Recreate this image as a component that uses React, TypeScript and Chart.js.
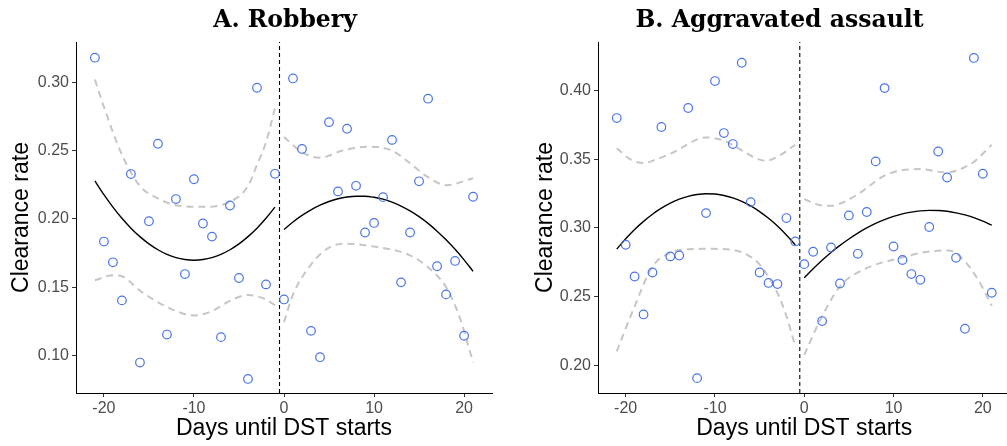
import React, { useEffect, useRef } from "react";
import { Chart, registerables } from "chart.js";

Chart.register(...registerables);

// ---------- Shared axis ticks ----------
const xTickValues = [-20, -10, 0, 10, 20];
const cutoffDay = -0.5;

// ---------- Panel A: Robbery ----------
const robberyDaysBefore = [-21, -20, -19, -18, -17, -16, -15, -14, -13, -12, -11, -10, -9, -8, -7, -6, -5, -4, -3, -2, -1];
const robberyRateBefore = [0.318, 0.1834, 0.1682, 0.1403, 0.2328, 0.0948, 0.1983, 0.255, 0.1153, 0.2145, 0.1596, 0.229, 0.1966, 0.187, 0.1134, 0.2098, 0.1567, 0.0828, 0.296, 0.152, 0.233];
const robberyDaysAfter = [0, 1, 2, 3, 4, 5, 6, 7, 8, 9, 10, 11, 12, 13, 14, 15, 16, 17, 18, 19, 20, 21];
const robberyRateAfter = [0.141, 0.3028, 0.2512, 0.118, 0.0987, 0.2708, 0.2201, 0.266, 0.2242, 0.19, 0.197, 0.2159, 0.2578, 0.1535, 0.19, 0.2275, 0.288, 0.1653, 0.1447, 0.1692, 0.1144, 0.2162];

const robberyFitBefore = [0.2278, 0.2177, 0.2086, 0.2004, 0.1932, 0.187, 0.1817, 0.1774, 0.174, 0.1716, 0.1702, 0.1697, 0.1702, 0.1716, 0.174, 0.1774, 0.1817, 0.187, 0.1932, 0.2004, 0.2086];
const robberyFitAfter = [0.1922, 0.1977, 0.2025, 0.2066, 0.21, 0.2127, 0.2147, 0.216, 0.2166, 0.2166, 0.2158, 0.2144, 0.2122, 0.2094, 0.2058, 0.2016, 0.1967, 0.191, 0.1847, 0.1777, 0.17, 0.1616];

const robberyUpperBeforeX = [-21, -20, -18, -16, -14, -12, -9, -6, -4, -3, -2, -1];
const robberyUpperBeforeY = [0.302, 0.282, 0.247, 0.224, 0.215, 0.21, 0.2088, 0.2125, 0.224, 0.2396, 0.256, 0.281];
const robberyLowerBeforeX = [-21, -19, -18, -16, -13, -10, -8, -6, -4, -2, -1];
const robberyLowerBeforeY = [0.155, 0.1587, 0.158, 0.1475, 0.1355, 0.1293, 0.1325, 0.14, 0.1442, 0.141, 0.1366];
const robberyUpperAfterX = [0, 2, 4, 6.5, 9.5, 12, 14, 16, 18, 21];
const robberyUpperAfterY = [0.26, 0.2488, 0.2448, 0.25, 0.2529, 0.25, 0.2407, 0.2305, 0.2247, 0.2297];
const robberyLowerAfterX = [0, 1, 3, 5, 7, 10, 14, 16, 18, 19.5, 21];
const robberyLowerAfterY = [0.1244, 0.1445, 0.1665, 0.179, 0.1818, 0.1797, 0.1733, 0.1645, 0.15, 0.128, 0.095];

const robberyYTicks = [0.1, 0.15, 0.2, 0.25, 0.3];

// ---------- Panel B: Aggravated assault ----------
const assaultDaysBefore = robberyDaysBefore;
const assaultRateBefore = [0.3799, 0.2878, 0.2647, 0.2371, 0.2676, 0.3734, 0.2793, 0.28, 0.3872, 0.1908, 0.3108, 0.4068, 0.369, 0.361, 0.4201, 0.3188, 0.2676, 0.26, 0.2592, 0.3072, 0.2902];
const assaultDaysAfter = robberyDaysAfter;
const assaultRateAfter = [0.2737, 0.2827, 0.2323, 0.2858, 0.2596, 0.3091, 0.2812, 0.3116, 0.3484, 0.4017, 0.2865, 0.2767, 0.2665, 0.2623, 0.3007, 0.3556, 0.3367, 0.2783, 0.2267, 0.4236, 0.3394, 0.2529];

const assaultFitBefore = [0.2846, 0.2921, 0.2989, 0.3048, 0.31, 0.3144, 0.3181, 0.3209, 0.323, 0.3243, 0.3249, 0.3247, 0.3236, 0.3219, 0.3193, 0.316, 0.3119, 0.307, 0.3014, 0.2949, 0.2877];
const assaultFitAfter = [0.2637, 0.2703, 0.2765, 0.2822, 0.2873, 0.292, 0.2963, 0.3, 0.3033, 0.3061, 0.3084, 0.3102, 0.3115, 0.3124, 0.3128, 0.3127, 0.3121, 0.311, 0.3095, 0.3075, 0.305, 0.302];

const assaultUpperBeforeX = [-21, -19.5, -18, -16.5, -14.8, -11, -9, -7.4, -5.5, -4.3, -2.8, -1];
const assaultUpperBeforeY = [0.358, 0.35, 0.3472, 0.35, 0.3545, 0.3658, 0.3635, 0.358, 0.351, 0.3489, 0.3525, 0.3605];
const assaultLowerBeforeX = [-21, -19, -17, -15, -13, -11, -8, -6, -5, -3, -2, -1];
const assaultLowerBeforeY = [0.2102, 0.243, 0.272, 0.282, 0.2845, 0.2848, 0.284, 0.279, 0.2735, 0.2527, 0.236, 0.2138];
const assaultUpperAfterX = [0, 1.5, 3, 4.5, 6.2, 9.2, 13, 15.8, 18.8, 21];
const assaultUpperAfterY = [0.321, 0.317, 0.3161, 0.319, 0.3254, 0.3387, 0.3428, 0.3404, 0.3472, 0.3605];
const assaultLowerAfterX = [0, 1.8, 4, 7, 10.3, 14, 16.2, 18, 19.5, 21];
const assaultLowerAfterY = [0.2078, 0.2332, 0.2575, 0.2708, 0.2774, 0.2829, 0.2836, 0.2756, 0.262, 0.2435];

const assaultYTicks = [0.2, 0.25, 0.3, 0.35, 0.4];

// ---------- styling ----------
const POINT_COLOR = "#4a74ec";
const BAND_COLOR = "#c6c6c6";
const SANS = "'Liberation Sans', Arial, sans-serif";

const zip = (xs: number[], ys: number[]) => xs.map((x, i) => ({ x, y: ys[i] }));

const panelTitlePlugin = {
  id: "panelTitle",
  afterDraw(chart: any, _args: any, opts: any) {
    if (!opts || !opts.text) return;
    const ctx = chart.ctx;
    ctx.save();
    ctx.font = opts.font;
    ctx.fillStyle = opts.color || "#000";
    ctx.textAlign = "center";
    ctx.textBaseline = "alphabetic";
    ctx.fillText(opts.text, opts.x, opts.y);
    ctx.restore();
  },
};

type PanelProps = {
  title: string;
  titleX: number;
  left: number;
  width: number;
  padRight: number;
  yTitlePad: number;
  yMin: number;
  yMax: number;
  yTicks: number[];
  daysBefore: number[];
  rateBefore: number[];
  daysAfter: number[];
  rateAfter: number[];
  fitBefore: number[];
  fitAfter: number[];
  upperBeforeX: number[];
  upperBeforeY: number[];
  lowerBeforeX: number[];
  lowerBeforeY: number[];
  upperAfterX: number[];
  upperAfterY: number[];
  lowerAfterX: number[];
  lowerAfterY: number[];
};

function Panel(p: PanelProps) {
  const ref = useRef<HTMLCanvasElement | null>(null);
  useEffect(() => {
    if (!ref.current) return;
    const band = (xs: number[], ys: number[]) => ({
      data: zip(xs, ys),
      showLine: true,
      borderColor: BAND_COLOR,
      borderWidth: 2,
      borderDash: [7, 5],
      pointRadius: 0,
      cubicInterpolationMode: "monotone" as const,
      fill: false,
    });
    const fit = (xs: number[], ys: number[]) => ({
      data: zip(xs, ys),
      showLine: true,
      borderColor: "#000000",
      borderWidth: 1.4,
      pointRadius: 0,
      cubicInterpolationMode: "monotone" as const,
      fill: false,
    });
    const pts = (xs: number[], ys: number[]) => ({
      data: zip(xs, ys),
      showLine: false,
      pointRadius: 4.3,
      pointBorderWidth: 1.2,
      pointBorderColor: POINT_COLOR,
      pointBackgroundColor: "rgba(0,0,0,0)",
      borderColor: POINT_COLOR,
      backgroundColor: "rgba(0,0,0,0)",
    });
    const chart = new Chart(ref.current, {
      type: "scatter",
      data: {
        datasets: [
          pts(p.daysBefore, p.rateBefore),
          pts(p.daysAfter, p.rateAfter),
          fit(p.daysBefore, p.fitBefore),
          fit(p.daysAfter, p.fitAfter),
          {
            data: [
              { x: cutoffDay, y: p.yMin },
              { x: cutoffDay, y: p.yMax },
            ],
            showLine: true,
            borderColor: "#000000",
            borderWidth: 1.1,
            borderDash: [4, 3],
            pointRadius: 0,
          },
          band(p.upperBeforeX, p.upperBeforeY),
          band(p.lowerBeforeX, p.lowerBeforeY),
          band(p.upperAfterX, p.upperAfterY),
          band(p.lowerAfterX, p.lowerAfterY),
        ] as any,
      },
      options: {
        responsive: false,
        animation: false,
        events: [],
        devicePixelRatio: 1,
        layout: { padding: { top: 42, right: p.padRight, bottom: 0, left: 0 } },
        plugins: {
          legend: { display: false },
          tooltip: { enabled: false },
          title: { display: false },
          panelTitle: {
            text: p.title,
            x: p.titleX,
            y: 27,
            font: "bold 23.5px 'DejaVu Serif', serif",
            color: "#000",
          },
        } as any,
        scales: {
          x: {
            type: "linear",
            min: -23.1,
            max: 23.1,
            afterBuildTicks: (s: any) => {
              s.ticks = xTickValues.map((v) => ({ value: v }));
            },
            afterFit: (s: any) => {
              s.height = 53;
            },
            grid: {
              display: true,
              drawOnChartArea: false,
              drawTicks: true,
              tickLength: 4,
              tickColor: "#333333",
              tickWidth: 1,
            },
            border: { display: true, color: "#000000", width: 1 },
            ticks: {
              color: "#4d4d4d",
              font: { family: SANS, size: 16 },
              padding: 2,
              maxRotation: 0,
              autoSkip: false,
              callback: (v: any) => String(v),
            },
            title: {
              display: true,
              text: "Days until DST starts",
              color: "#000",
              font: { family: SANS, size: 23 },
              padding: { top: 0, bottom: 4 },
            },
          },
          y: {
            type: "linear",
            min: p.yMin,
            max: p.yMax,
            afterBuildTicks: (s: any) => {
              s.ticks = p.yTicks.map((v) => ({ value: v }));
            },
            afterFit: (s: any) => {
              s.width = 76;
            },
            grid: {
              display: true,
              drawOnChartArea: false,
              drawTicks: true,
              tickLength: 4,
              tickColor: "#333333",
              tickWidth: 1,
            },
            border: { display: true, color: "#000000", width: 1 },
            ticks: {
              color: "#4d4d4d",
              font: { family: SANS, size: 16 },
              padding: 3,
              autoSkip: false,
              callback: (v: any) => Number(v).toFixed(2),
            },
            title: {
              display: true,
              text: "Clearance rate",
              color: "#000",
              font: { family: SANS, size: 23 },
              padding: { top: p.yTitlePad, bottom: 0 },
            },
          },
        },
      } as any,
      plugins: [panelTitlePlugin as any],
    });
    return () => chart.destroy();
  }, []);
  return (
    <canvas
      ref={ref}
      width={p.width}
      height={446}
      style={{ position: "absolute", left: p.left, top: 0, width: p.width, height: 446 }}
    />
  );
}

export default function App() {
  return (
    <div
      style={{
        position: "fixed",
        left: 0,
        top: 0,
        width: 1007,
        height: 446,
        overflow: "hidden",
        background: "#ffffff",
      }}
    >
      <Panel
        title="A. Robbery"
        titleX={285}
        left={0}
        width={520}
        padRight={28}
        yTitlePad={8}
        yMin={0.0725}
        yMax={0.3295}
        yTicks={robberyYTicks}
        daysBefore={robberyDaysBefore}
        rateBefore={robberyRateBefore}
        daysAfter={robberyDaysAfter}
        rateAfter={robberyRateAfter}
        fitBefore={robberyFitBefore}
        fitAfter={robberyFitAfter}
        upperBeforeX={robberyUpperBeforeX}
        upperBeforeY={robberyUpperBeforeY}
        lowerBeforeX={robberyLowerBeforeX}
        lowerBeforeY={robberyLowerBeforeY}
        upperAfterX={robberyUpperAfterX}
        upperAfterY={robberyUpperAfterY}
        lowerAfterX={robberyLowerAfterX}
        lowerAfterY={robberyLowerAfterY}
      />
      <Panel
        title="B. Aggravated assault"
        titleX={257.5}
        left={522}
        width={494}
        padRight={0}
        yTitlePad={10}
        yMin={0.18}
        yMax={0.4352}
        yTicks={assaultYTicks}
        daysBefore={assaultDaysBefore}
        rateBefore={assaultRateBefore}
        daysAfter={assaultDaysAfter}
        rateAfter={assaultRateAfter}
        fitBefore={assaultFitBefore}
        fitAfter={assaultFitAfter}
        upperBeforeX={assaultUpperBeforeX}
        upperBeforeY={assaultUpperBeforeY}
        lowerBeforeX={assaultLowerBeforeX}
        lowerBeforeY={assaultLowerBeforeY}
        upperAfterX={assaultUpperAfterX}
        upperAfterY={assaultUpperAfterY}
        lowerAfterX={assaultLowerAfterX}
        lowerAfterY={assaultLowerAfterY}
      />
    </div>
  );
}
